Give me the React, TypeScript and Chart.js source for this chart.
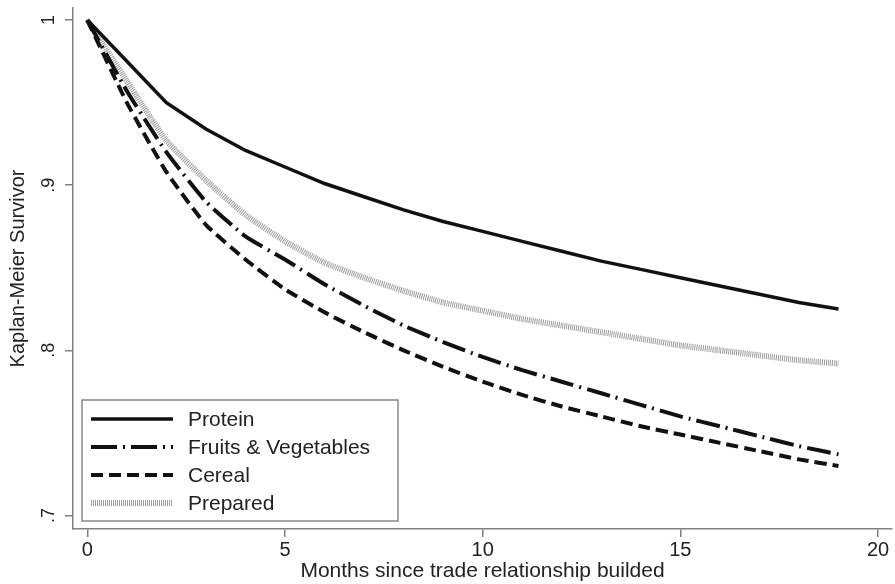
import React, { useEffect, useRef } from "react";
import { Chart, registerables } from "chart.js";

Chart.register(...registerables);

const months = [0, 1, 2, 3, 4, 5, 6, 7, 8, 9, 10, 11, 12, 13, 14, 15, 16, 17, 18, 19];
const protein = [1, 0.975, 0.95, 0.934, 0.921, 0.911, 0.901, 0.893, 0.885, 0.878, 0.872, 0.866, 0.86, 0.854, 0.849, 0.844, 0.839, 0.834, 0.829, 0.825];
const fruitsVeg = [1, 0.957, 0.92, 0.89, 0.869, 0.855, 0.84, 0.827, 0.815, 0.805, 0.796, 0.788, 0.781, 0.774, 0.767, 0.76, 0.754, 0.748, 0.742, 0.737];
const cereal = [1, 0.95, 0.908, 0.876, 0.855, 0.837, 0.823, 0.811, 0.8, 0.79, 0.781, 0.773, 0.766, 0.76, 0.754, 0.749, 0.744, 0.739, 0.734, 0.73];
const prepared = [1, 0.963, 0.927, 0.903, 0.882, 0.866, 0.853, 0.844, 0.836, 0.829, 0.824, 0.819, 0.815, 0.811, 0.807, 0.803, 0.8, 0.797, 0.794, 0.792];

const seriesLabels = ["Protein", "Fruits & Vegetables", "Cereal", "Prepared"];
const xTicks = [0, 5, 10, 15, 20];
const yTicks = [0.7, 0.8, 0.9, 1];
const yTickLabels = [".7", ".8", ".9", "1"];
const xTitle = "Months since trade relationship builded";
const yTitle = "Kaplan-Meier Survivor";

const FONT = "'Liberation Sans', Arial, sans-serif";
const AXIS_COLOR = "#808080";

const yLabelPlugin = {
  id: "yLabelPlugin",
  afterDraw(chart: any) {
    const ctx = chart.ctx;
    const ys = chart.scales.y;
    ctx.save();
    ctx.fillStyle = "#222";
    ctx.font = `18px ${FONT}`;
    ctx.textAlign = "center";
    ctx.textBaseline = "middle";
    yTicks.forEach((v, i) => {
      const py = ys.getPixelForValue(v);
      ctx.save();
      ctx.translate(ys.right - 24, py);
      ctx.rotate(-Math.PI / 2);
      ctx.fillText(yTickLabels[i], 0, 0);
      ctx.restore();
    });
    ctx.restore();
  },
};

const insetLegend = {
  id: "insetLegend",
  afterDatasetsDraw(chart: any) {
    const ctx = chart.ctx;
    const area = chart.chartArea;
    const bx = area.left + 9;
    const bw = 316;
    const bh = 121;
    const by = area.bottom - 8 - bh;
    ctx.save();
    ctx.fillStyle = "#fff";
    ctx.fillRect(bx, by, bw, bh);
    ctx.strokeStyle = "#888";
    ctx.lineWidth = 1.5;
    ctx.strokeRect(bx, by, bw, bh);
    chart.data.datasets.forEach((ds: any, i: number) => {
      const cy = by + 19 + i * 28;
      ctx.beginPath();
      ctx.setLineDash(ds.legendDash || ds.borderDash || []);
      ctx.lineWidth = ds.legendWidth || ds.borderWidth;
      ctx.strokeStyle = ds.borderColor;
      ctx.lineCap = "butt";
      ctx.moveTo(bx + 9, cy);
      ctx.lineTo(bx + 91, cy);
      ctx.stroke();
      ctx.setLineDash([]);
      ctx.fillStyle = "#222";
      ctx.font = `21px ${FONT}`;
      ctx.textAlign = "left";
      ctx.textBaseline = "middle";
      ctx.fillText(ds.label, bx + 106, cy + 1);
    });
    ctx.restore();
  },
};

export default function App() {
  const canvasRef = useRef<HTMLCanvasElement | null>(null);

  useEffect(() => {
    const canvas = canvasRef.current;
    if (!canvas) return;
    const mk = (arr: number[]) => months.map((m, i) => ({ x: m, y: arr[i] }));
    const chart = new Chart(canvas, {
      type: "line",
      data: {
        datasets: [
          {
            label: seriesLabels[0],
            data: mk(protein),
            borderColor: "#111",
            borderWidth: 3.5,
            pointRadius: 0,
            tension: 0,
          } as any,
          {
            label: seriesLabels[1],
            data: mk(fruitsVeg),
            borderColor: "#111",
            borderWidth: 4,
            borderDash: [24, 6, 2, 6],
            legendDash: [26, 6, 2, 6],
            pointRadius: 0,
            tension: 0.15,
          },
          {
            label: seriesLabels[2],
            data: mk(cereal),
            borderColor: "#111",
            borderWidth: 4,
            borderDash: [12, 6],
            pointRadius: 0,
            tension: 0.15,
          },
          {
            label: seriesLabels[3],
            data: mk(prepared),
            borderColor: "#9c9c9c",
            borderWidth: 6,
            borderDash: [1, 1],
            legendWidth: 6,
            pointRadius: 0,
            tension: 0.15,
          },
        ],
      },
      options: {
        animation: false,
        responsive: false,
        events: [],
        layout: { padding: { top: 8, right: 3, left: 0, bottom: 0 } },
        plugins: {
          legend: { display: false },
          tooltip: { enabled: false },
        },
        scales: {
          x: {
            type: "linear",
            min: -0.362,
            max: 20.354,
            afterBuildTicks: (s: any) => {
              s.ticks = xTicks.map((v) => ({ value: v }));
            },
            afterFit: (s: any) => {
              s.height = 55;
            },
            grid: {
              drawOnChartArea: false,
              drawTicks: true,
              tickLength: 8,
              color: AXIS_COLOR,
              lineWidth: 1.5,
            },
            border: { display: true, color: AXIS_COLOR, width: 1.5 },
            ticks: {
              color: "#222",
              font: { family: FONT, size: 20 },
              padding: 1,
              maxRotation: 0,
              autoSkip: false,
              callback: (v: any) => String(v),
            },
            title: {
              display: true,
              text: xTitle,
              color: "#222",
              font: { family: FONT, size: 21 },
              padding: { top: 0, bottom: 0 },
            },
          },
          y: {
            type: "linear",
            min: 0.69183,
            max: 1.00727,
            afterBuildTicks: (s: any) => {
              s.ticks = yTicks.map((v) => ({ value: v }));
            },
            afterFit: (s: any) => {
              s.width = 73;
            },
            grid: {
              drawOnChartArea: false,
              drawTicks: true,
              tickLength: 8,
              color: AXIS_COLOR,
              lineWidth: 1.5,
            },
            border: { display: true, color: AXIS_COLOR, width: 1.5 },
            ticks: { display: false },
            title: {
              display: true,
              text: yTitle,
              color: "#222",
              font: { family: FONT, size: 20 },
              padding: { top: 6, bottom: 0 },
            },
          },
        },
      },
      plugins: [insetLegend, yLabelPlugin],
    });
    return () => chart.destroy();
  }, []);

  return (
    <div style={{ position: "fixed", left: 0, top: 0, width: 895, height: 584, background: "#fff" }}>
      <canvas ref={canvasRef} width={895} height={584} style={{ width: 895, height: 584, display: "block" }} />
    </div>
  );
}
